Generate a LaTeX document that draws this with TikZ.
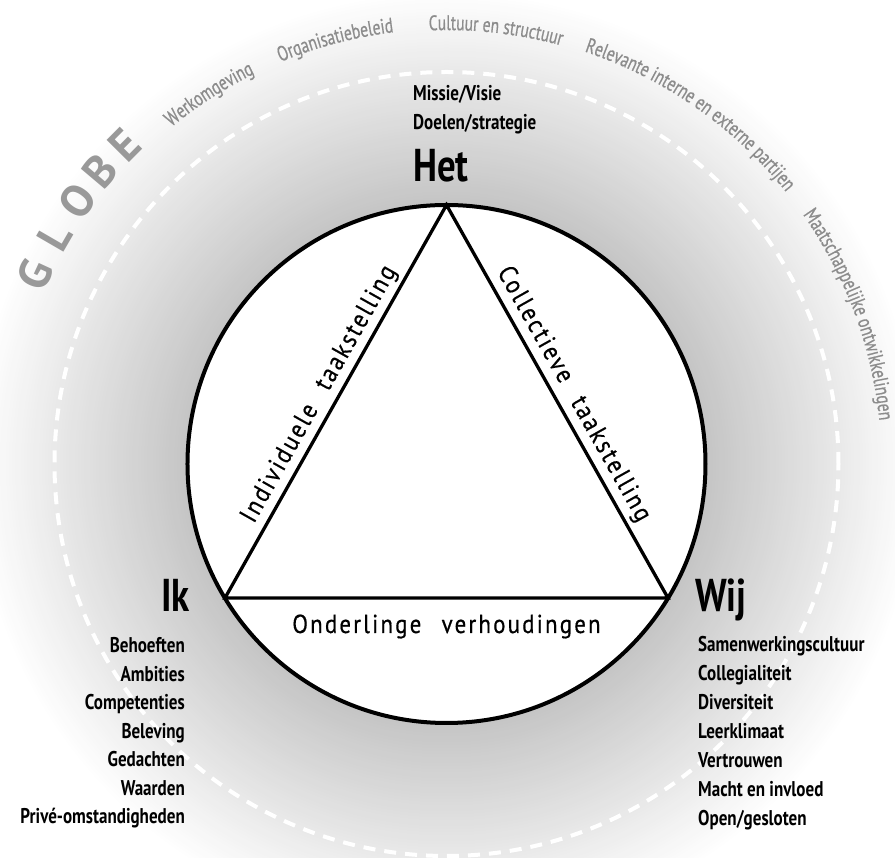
\documentclass[tikz,border=0pt]{standalone}
\usepackage{fontspec}
\setmainfont{PT Sans}
\newfontfamily\cond[FakeStretch=0.8]{PT Sans}
\newfontfamily\arcfam[FakeStretch=0.74,FakeBold=0.6]{PT Sans}
\newfontfamily\condspaced[FakeStretch=0.88,LetterSpace=8.5,FakeBold=0.5]{PT Sans}
\usetikzlibrary{decorations.text}
\definecolor{arcgray}{gray}{0.55}
\definecolor{globegray}{gray}{0.6}
\newcommand\arcfont{\arcfam\fontsize{21}{21}\selectfont\color{arcgray}}
\begin{document}
\begin{tikzpicture}[x=1pt,y=1pt,
  bigword/.style={inner sep=0pt, font=\cond\bfseries\fontsize{46}{46}\selectfont},
  listword/.style={inner sep=0pt, font=\cond\bfseries\fontsize{21.3}{21.3}\selectfont},
  sidelabel/.style={inner sep=0pt, font=\condspaced\fontsize{26}{26}\selectfont},
  globeletter/.style={inner sep=0pt, text=globegray, font=\bfseries\fontsize{45}{45}\selectfont}]
\useasboundingbox (-446.5,-394) rectangle (448.5,464);
\clip (-446.5,-394) rectangle (448.5,464);
% radial grey glow round the circle
\foreach \r in {530,527,...,257} {
  \pgfmathsetmacro\v{min(1,0.77+0.23*(\r-259)/215)}
  \definecolor{ringc}{gray}{\v}
  \fill[ringc] (0,0) circle[radius=\r pt];
}
\draw[white, line width=4pt, dash pattern=on 12pt off 9pt] (0,0) circle[radius=392pt];
% outer ring texts
\path[decorate, decoration={text along path, text align=center, text={|\arcfont|Werkomgeving}}]
  (142.7:435) arc[start angle=142.7, end angle=102.7, radius=435pt];
\path[decorate, decoration={text along path, text align=center, text={|\arcfont|Organisatiebeleid}}]
  (124.7:435) arc[start angle=124.7, end angle=84.7, radius=435pt];
\path[decorate, decoration={text along path, text align=center, text={|\arcfont|Cultuur en structuur}}]
  (103.5:434) arc[start angle=103.5, end angle=63.5, radius=434pt];
\path[decorate, decoration={text along path, text align=center, text={|\arcfont|Relevante interne en externe partijen}}]
  (80.1:435) arc[start angle=80.1, end angle=30.1, radius=435pt];
\path[decorate, decoration={text along path, text align=left, text={|\arcfont|Maatschappelijke ontwikkelingen}}]
  (35:435) arc[start angle=35, end angle=-40, radius=435pt];
% GLOBE
\node[globeletter, rotate=65.3] (gG) at (155.3:453) {G};
\node[globeletter, rotate=59.9] (gL) at (149.9:453) {L};
\node[globeletter, rotate=54.5] (gO) at (144.5:453) {O};
\node[globeletter, rotate=49.8] (gB) at (139.8:453) {B};
\node[globeletter, rotate=45.2] (gE) at (135.2:453) {E};
% circle and triangle
\coordinate (A) at (0,259);
\coordinate (B) at (-221.5,-134);
\coordinate (C) at (221.5,-134);
\fill[white] (0,0) circle[radius=259pt];
\draw[line width=3.3pt] (A) -- (B) -- (C) -- cycle;
\draw[line width=4pt] (0,0) circle[radius=259pt];
% side labels
\node[sidelabel, rotate=60.6, anchor=base] (indiv) at (-121.2,66.4) {Individuele\hspace{12pt} taakstelling};
\node[sidelabel, rotate=-60.6, anchor=base] (coll) at (121.2,66.4) {Collectieve\hspace{12pt} taakstelling};
\node[sidelabel, anchor=base] (onder) at (0,-169) {Onderlinge\hspace{12pt} verhoudingen};
% corner words
\node[bigword, anchor=base west] (het) at (-33.5,282) {Het};
\node[listword, anchor=base west] (missie) at (-33.5,363) {Missie/Visie};
\node[listword, anchor=base west] (doelen) at (-33.5,334) {Doelen/strategie};
\node[bigword, anchor=base east] (ik) at (-256.5,-148) {Ik};
\node[bigword, anchor=base west] (wij) at (248.5,-148) {Wij};
% Ik list
\node[listword, anchor=base east] (ik1) at (-261.5,-189) {Behoeften};
\node[listword, anchor=base east] (ik2) at (-261.5,-217.5) {Ambities};
\node[listword, anchor=base east] (ik3) at (-261.5,-246) {Competenties};
\node[listword, anchor=base east] (ik4) at (-261.5,-274.5) {Beleving};
\node[listword, anchor=base east] (ik5) at (-261.5,-303) {Gedachten};
\node[listword, anchor=base east] (ik6) at (-261.5,-331.5) {Waarden};
\node[listword, anchor=base east] (ik7) at (-261.5,-360) {Privé-omstandigheden};
% Wij list
\node[listword, anchor=base west] (wij1) at (251.5,-188) {Samenwerkingscultuur};
\node[listword, anchor=base west] (wij2) at (251.5,-217) {Collegialiteit};
\node[listword, anchor=base west] (wij3) at (251.5,-246) {Diversiteit};
\node[listword, anchor=base west] (wij4) at (251.5,-275) {Leerklimaat};
\node[listword, anchor=base west] (wij5) at (251.5,-304) {Vertrouwen};
\node[listword, anchor=base west] (wij6) at (251.5,-333) {Macht en invloed};
\node[listword, anchor=base west] (wij7) at (251.5,-362) {Open/gesloten};
\end{tikzpicture}
\end{document}
